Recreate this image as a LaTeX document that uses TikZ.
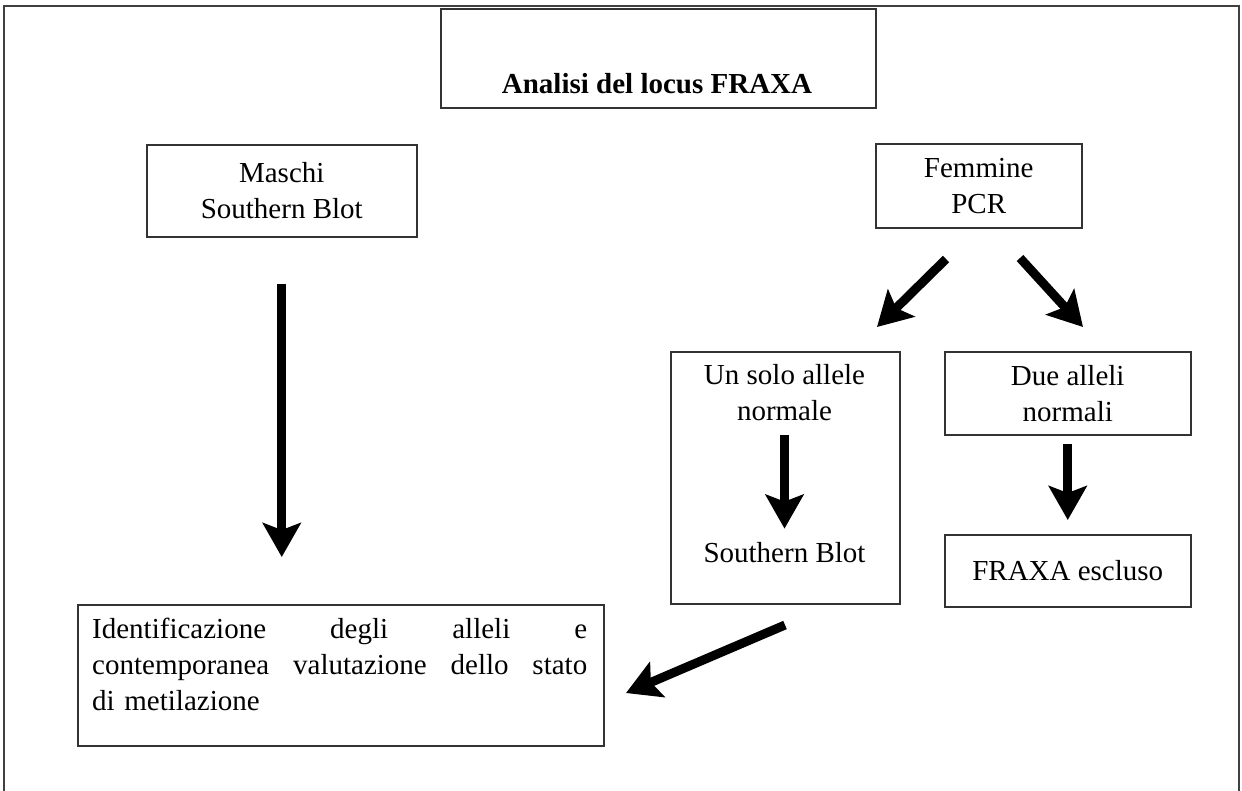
\documentclass[tikz,border=0pt]{standalone}
\usepackage{fontspec}
\setmainfont{Liberation Serif}
\usetikzlibrary{arrows.meta}
\begin{document}
\begin{tikzpicture}[x=1pt,y=-1pt,
  box/.style={draw=black!80, line width=1.5pt, inner sep=0pt, anchor=north west, align=center,
    font=\fontsize{29}{36}\selectfont},
  txt/.style={inner sep=0pt, align=center, font=\fontsize{29}{36}\selectfont},
  bigarrow/.style={line width=9pt, -{Stealth[length=34pt,width=38pt,inset=7pt]}},
  frame/.style={draw=black!75, line width=2.5pt}]
\useasboundingbox (0,0) rectangle (1242,790);
\draw[frame] (4,792) -- (4,6) -- (1239,6) -- (1239,792);

\node[box, minimum width=435, minimum height=99] (topbox) at (440,8) {};
\node[txt, font=\fontsize{29}{36}\selectfont\bfseries] (toplbl) at (657,84) {Analisi del locus FRAXA};

\node[box, minimum width=270, minimum height=92] (maschi) at (146,144) {Maschi\\Southern Blot};
\node[box, minimum width=206, minimum height=84] (femmine) at (875,143) {Femmine\\PCR};

\node[box, minimum width=229, minimum height=252] (unsolo) at (670,351) {};
\node[txt] (us1) at (784.5,393) {Un solo allele\\normale};
\node[txt] (us2) at (784.5,553) {Southern Blot};

\node[box, minimum width=246, minimum height=83] (due) at (944,351) {Due alleli\\normali};
\node[box, minimum width=246, minimum height=72] (escluso) at (944,534) {FRAXA escluso};

\node[box, minimum width=526, minimum height=141] (ident) at (77,604) {};
\node[txt, anchor=north west, align=left, text width=495pt] (identtxt) at (92,618)
  {Identificazione\hfill degli\hfill alleli\hfill e\\
   contemporanea\hfill valutazione\hfill dello\hfill stato\\
   di metilazione};

\coordinate (fl1) at (946,259);
\coordinate (fl2) at (877,327);
\coordinate (fr1) at (1020,258);
\coordinate (fr2) at (1083,327);
\coordinate (ub1) at (785,625);
\coordinate (ub2) at (626,693);

\draw[bigarrow, shorten <=46pt, shorten >=47pt] (maschi.south) -- (maschi.south |- ident.north);
\draw[bigarrow] (fl1) -- (fl2);
\draw[bigarrow] (fr1) -- (fr2);
\draw[bigarrow, shorten <=14pt, shorten >=14pt] (us1.south) -- (us2.north);
\draw[bigarrow, shorten <=8pt, shorten >=14pt] (due.south) -- (escluso.north);
\draw[bigarrow] (ub1) -- (ub2);
\end{tikzpicture}
\end{document}
